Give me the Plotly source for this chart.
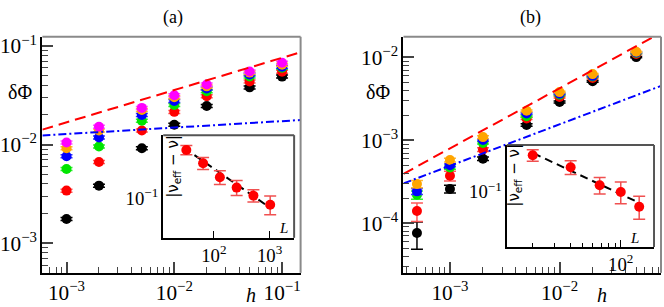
import plotly.graph_objects as go

# ---------------- data ----------------
h_a = [0.001, 0.002, 0.005, 0.01, 0.02, 0.05, 0.1]
a_black = [0.00176, 0.00384, 0.0092, 0.0159, 0.0247, 0.0381, 0.049]
a_red = [0.00342, 0.00667, 0.0139, 0.0215, 0.031, 0.0438, 0.055]
a_green = [0.00567, 0.0096, 0.0175, 0.0252, 0.0348, 0.0491, 0.0602]
a_blue = [0.00764, 0.0118, 0.0200, 0.0277, 0.0372, 0.0514, 0.0617]
a_orange = [0.0092, 0.0139, 0.0225, 0.0303, 0.0390, 0.0538, 0.0646]
a_magenta = [0.01054, 0.0152, 0.0236, 0.0317, 0.0408, 0.0551, 0.0676]

h_b = [0.0005, 0.001, 0.002, 0.005, 0.01, 0.02, 0.05]
b_black = [7.6e-5, 2.59e-4, 6.0e-4, 1.53e-3, 2.9e-3, 5.16e-3, 1.01e-2]
b_red = [1.40e-4, 3.73e-4, 7.73e-4, 1.84e-3, 3.33e-3, 5.65e-3, 1.10e-2]
b_green = [2.2e-4, 4.69e-4, 9.3e-4, 1.95e-3, 3.55e-3, 5.9e-3, 1.13e-2]
b_blue = [2.42e-4, 4.99e-4, 1.01e-3, 2.11e-3, 3.65e-3, 6.0e-3, 1.15e-2]
b_orange = [2.97e-4, 5.78e-4, 1.094e-3, 2.27e-3, 3.82e-3, 6.3e-3, 1.17e-2]
b_black_err = [2.75e-5, 2.8e-5, 3.0e-5, 5e-5, 8e-5, 1.2e-4, 2e-4]
b_red_err = [3.5e-5, 5.0e-5, 4.0e-5, 6e-5, 8e-5, 1.2e-4, 2e-4]
b_green_err = [2.5e-5, 2.0e-5, 3.0e-5, 5e-5, 8e-5, 1.2e-4, 2e-4]
b_blue_err = [2.0e-5, 2.0e-5, 3.0e-5, 5e-5, 8e-5, 1.2e-4, 2e-4]
b_orange_err = [3.0e-5, 3.0e-5, 4.0e-5, 6e-5, 8e-5, 1.2e-4, 2e-4]

# fit lines (end points in data units)
fit_red_a_h = [5.97e-4, 0.1486]
fit_red_a_val = [0.01422, 0.0865]
fit_blue_a_h = [5.97e-4, 0.1486]
fit_blue_a_val = [0.01239, 0.01778]
fit_red_b_h = [3.77e-4, 0.0841]
fit_red_b_val = [3.94e-4, 0.01993]
fit_blue_b_h = [3.77e-4, 0.0841]
fit_blue_b_val = [3.02e-4, 4.54e-3]

# insets
L_a = [32, 64, 128, 256, 512, 1024]
nu_a = [0.214, 0.174, 0.140, 0.119, 0.105, 0.091]
nu_a_err = [0.0154, 0.016, 0.015, 0.0137, 0.0101, 0.0132]
fit_a_L = [28.8, 1071]
fit_a_nu = [0.222, 0.0857]

L_b = [20, 40, 68, 100, 140]
nu_b = [0.177, 0.147, 0.111, 0.100, 0.0794]
nu_b_err = [0.0157, 0.0158, 0.0141, 0.0169, 0.0142]
fit_b_L = [20.2, 138]
fit_b_nu = [0.183, 0.0849]

# ---------------- style ----------------
FONT = "Liberation Serif"
C = dict(black="#000000", red="#ff0000", green="#00e600", blue="#0000ff",
         orange="#ffa500", magenta="#ff00ff")
ERRC = dict(black="#000000", red="#ff5a5a", green="#33ee33", blue="#3333ff",
            orange="#ffb733", magenta="#ff55ff")

fig = go.Figure()

def add_series(x, y, name, xa, ya, err=None, rel=0.03, width=6):
    if err is None:
        err = [v * rel for v in y]
    fig.add_trace(go.Scatter(
        x=x, y=y, mode="markers", xaxis=xa, yaxis=ya,
        marker=dict(color=C[name], size=10, line=dict(width=0)),
        error_y=dict(type="data", array=err, color=ERRC[name], thickness=1.5, width=width),
        showlegend=False))

# panel (a)
for nm, arr in [("black", a_black), ("red", a_red), ("green", a_green),
                ("blue", a_blue), ("orange", a_orange), ("magenta", a_magenta)]:
    add_series(h_a, arr, nm, "x", "y", rel=0.035)
fig.add_trace(go.Scatter(x=fit_red_a_h, y=fit_red_a_val, mode="lines", xaxis="x", yaxis="y",
                         line=dict(color="#ff0000", width=2, dash="11px,6px"), showlegend=False))
fig.add_trace(go.Scatter(x=fit_blue_a_h, y=fit_blue_a_val, mode="lines", xaxis="x", yaxis="y",
                         line=dict(color="#0000ff", width=2, dash="8px,3px,2px,3px"), showlegend=False))

# panel (b)
for nm, arr, er in [("black", b_black, b_black_err), ("red", b_red, b_red_err),
                    ("green", b_green, b_green_err), ("blue", b_blue, b_blue_err),
                    ("orange", b_orange, b_orange_err)]:
    add_series(h_b, arr, nm, "x2", "y2", err=er)
fig.add_trace(go.Scatter(x=fit_red_b_h, y=fit_red_b_val, mode="lines", xaxis="x2", yaxis="y2",
                         line=dict(color="#ff0000", width=2, dash="11px,6px"), showlegend=False))
fig.add_trace(go.Scatter(x=fit_blue_b_h, y=fit_blue_b_val, mode="lines", xaxis="x2", yaxis="y2",
                         line=dict(color="#0000ff", width=2, dash="8px,3px,2px,3px"), showlegend=False))

# insets
fig.add_trace(go.Scatter(x=fit_a_L, y=fit_a_nu, mode="lines", xaxis="x3", yaxis="y3",
                         line=dict(color="black", width=2, dash="8px,5px"), showlegend=False))
fig.add_trace(go.Scatter(x=L_a, y=nu_a, mode="markers", xaxis="x3", yaxis="y3",
                         marker=dict(color="#ff0000", size=10),
                         error_y=dict(type="data", array=nu_a_err, color="#f05050", thickness=1.5, width=6),
                         showlegend=False))
fig.add_trace(go.Scatter(x=fit_b_L, y=fit_b_nu, mode="lines", xaxis="x4", yaxis="y4",
                         line=dict(color="black", width=2, dash="8px,5px"), showlegend=False))
fig.add_trace(go.Scatter(x=L_b, y=nu_b, mode="markers", xaxis="x4", yaxis="y4",
                         marker=dict(color="#ff0000", size=10),
                         error_y=dict(type="data", array=nu_b_err, color="#f05050", thickness=1.5, width=6),
                         showlegend=False))

W, H = 664, 307
def px_x(a, b):
    return [a / W, b / W]
def px_y(top, bot):
    return [1 - bot / H, 1 - top / H]

main_tick = dict(size=17, family=FONT, color="black")

def main_axis(dom, rng, anchor):
    return dict(type="log", domain=dom, range=rng, anchor=anchor, showline=True,
                linecolor="black", linewidth=2, ticks="inside", ticklen=11, tickwidth=1.5,
                tickcolor="#444", dtick=1, exponentformat="power", showexponent="all",
                tickfont=main_tick, showgrid=False, zeroline=False,
                minor=dict(ticks="inside", ticklen=6, tickwidth=1, tickcolor="#444", showgrid=False))

def inset_axis(dom, rng, anchor, minor=False, ticks="inside"):
    d = dict(type="log", domain=dom, range=rng, anchor=anchor, showline=True,
             linecolor="black", linewidth=2, ticks=ticks, ticklen=7, tickwidth=1.2,
             tickcolor="black", dtick=1, exponentformat="power", showexponent="all",
             tickfont=dict(size=15, family=FONT, color="black"), showgrid=False, zeroline=False)
    if minor:
        d["minor"] = dict(ticks="inside", ticklen=4, tickwidth=1, tickcolor="black", showgrid=False)
    return d

A_X = px_x(40.5, 299.5)
B_X = px_x(402.7, 661)
MAIN_Y = px_y(32.3, 272.3)
IA_X = px_x(161.7, 293)
IA_Y = px_y(132.3, 236.7)
IB_X = px_x(506.3, 654)
IB_Y = px_y(142.3, 246)

fig.update_layout(
    width=W, height=H, margin=dict(l=0, r=0, t=0, b=0),
    plot_bgcolor="white", paper_bgcolor="white", showlegend=False,
    font=dict(family=FONT, color="black"),
    xaxis=main_axis(A_X, [-3.224, -0.828], "y"),
    yaxis=main_axis(MAIN_Y, [-3.30, -0.906], "x"),
    xaxis2=main_axis(B_X, [-3.424, -1.075], "y2"),
    yaxis2=main_axis(MAIN_Y, [-4.60, -1.75], "x2"),
    xaxis3=inset_axis(IA_X, [1.09, 3.44], "y3"),
    yaxis3=inset_axis(IA_Y, [-1.265, -0.569], "x3", ticks=""),
    xaxis4=inset_axis(IB_X, [1.095, 2.264], "y4", minor=True),
    yaxis4=inset_axis(IB_Y, [-1.373, -0.682], "x4", ticks=""),
)

shapes = []
def frame_tr(xd, yd, color, w):
    shapes.append(dict(type="line", xref="paper", yref="paper", x0=xd[0], x1=xd[1], y0=yd[1], y1=yd[1],
                       line=dict(color=color, width=w)))
    shapes.append(dict(type="line", xref="paper", yref="paper", x0=xd[1], x1=xd[1], y0=yd[0], y1=yd[1],
                       line=dict(color=color, width=w)))
frame_tr(A_X, MAIN_Y, "#8a8a8a", 2)
frame_tr(B_X, MAIN_Y, "#8a8a8a", 2)
frame_tr(IA_X, IA_Y, "#555555", 2)
frame_tr(IB_X, IB_Y, "#555555", 2)
fig.update_layout(shapes=shapes)

ann = []
def text(x, y, s, size, **kw):
    ann.append(dict(x=x / W, y=1 - y / H, xref="paper", yref="paper", text=s, showarrow=False,
                    font=dict(size=size, family=kw.pop("family", FONT), color="black"),
                    xanchor="center", yanchor="middle", **kw))

text(172, 13, "(a)", 18)
text(530, 13, "(b)", 18)
text(18, 88, "δΦ", 20)
text(377, 88, "δΦ", 20)
text(250, 295, "<i>h</i>", 20)
text(602, 295, "<i>h</i>", 20)
text(282, 227, "<i>L</i>", 15)
text(634, 237, "<i>L</i>", 15)
text(172, 164, "|ν<sub>eff</sub> − ν|", 15, textangle=-90, family="DejaVu Sans")
text(514, 173, "|ν<sub>eff</sub> − ν|", 15, textangle=-90, family="DejaVu Sans")
fig.update_layout(annotations=ann)

fig.write_html("out.html", config={"displayModeBar": False},
               post_script="document.body.style.margin='0';document.body.style.padding='0';")
